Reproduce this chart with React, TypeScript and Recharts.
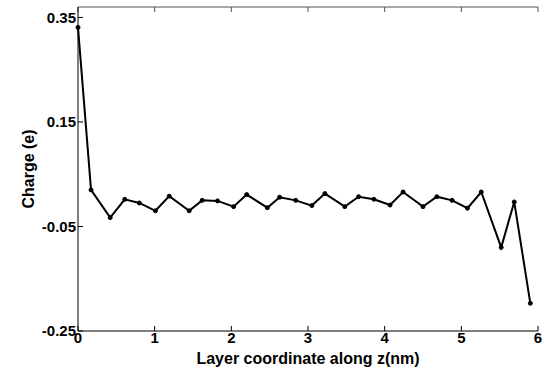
import { LineChart, Line, XAxis, YAxis } from 'recharts'

const layerZ = [
  0, 0.17, 0.42, 0.61, 0.8, 1.01, 1.19, 1.45, 1.62, 1.82, 2.03, 2.2, 2.47, 2.63, 2.84,
  3.05, 3.22, 3.48, 3.66, 3.86, 4.07, 4.24, 4.5, 4.68, 4.88, 5.08, 5.26, 5.52, 5.69, 5.9,
]
const charge = [
  0.331, 0.02, -0.033, 0.002, -0.005, -0.02, 0.008, -0.02, 0.0, -0.001, -0.012, 0.011, -0.014,
  0.006, 0.0, -0.01, 0.013, -0.012, 0.007, 0.002, -0.009, 0.016, -0.012, 0.007, 0.0, -0.015,
  0.016, -0.09, -0.003, -0.197,
]
const xTicks = [0, 1, 2, 3, 4, 5, 6]
const yTicks = [-0.25, -0.05, 0.15, 0.35]

const data = layerZ.map((z, i) => ({ z, q: charge[i] }))

const tickFont = { fontFamily: 'Liberation Sans, Arial, sans-serif', fontSize: 15, fontWeight: 700, fill: '#000' }
const noLabel = () => <g />

export default function App() {
  return (
    <div style={{ position: 'absolute', left: 0, top: 0, background: '#fff' }}>
      <LineChart width={543} height={371} data={data} margin={{ top: 0, right: 5, left: 0, bottom: 0 }}>
        <XAxis
          xAxisId="b"
          dataKey="z"
          type="number"
          domain={[0, 6]}
          ticks={xTicks}
          height={40}
          tickSize={-5}
          tickMargin={6}
          stroke="#000"
          tick={tickFont}
          label={{
            value: 'Layer coordinate along z(nm)',
            position: 'insideBottom',
            offset: 7,
            style: { ...tickFont, fontSize: 16 },
          }}
        />
        <XAxis
          xAxisId="t"
          orientation="top"
          dataKey="z"
          type="number"
          domain={[0, 6]}
          ticks={xTicks}
          height={7}
          tickSize={-5}
          stroke="#555"
          tick={noLabel}
        />
        <YAxis
          yAxisId="l"
          type="number"
          domain={[-0.25, 0.37]}
          ticks={yTicks}
          width={78}
          tickSize={-5}
          tickMargin={7}
          stroke="#000"
          tick={tickFont}
          tickFormatter={(v: number) => v.toFixed(2).replace(/^0\./, '0.').replace(/^-0\./, '-0.')}
          label={{
            value: 'Charge (e)',
            angle: -90,
            position: 'insideLeft',
            offset: 28,
            style: { ...tickFont, fontSize: 16, textAnchor: 'middle' },
          }}
        />
        <YAxis
          yAxisId="r"
          orientation="right"
          type="number"
          domain={[-0.25, 0.37]}
          ticks={yTicks}
          width={0}
          tickSize={-5}
          stroke="#555"
          tick={noLabel}
        />
        <Line
          xAxisId="b"
          yAxisId="l"
          type="linear"
          dataKey="q"
          stroke="#000"
          strokeWidth={2}
          dot={{ r: 2, fill: '#000', stroke: '#000', strokeWidth: 1 }}
          isAnimationActive={false}
        />
      </LineChart>
    </div>
  )
}
